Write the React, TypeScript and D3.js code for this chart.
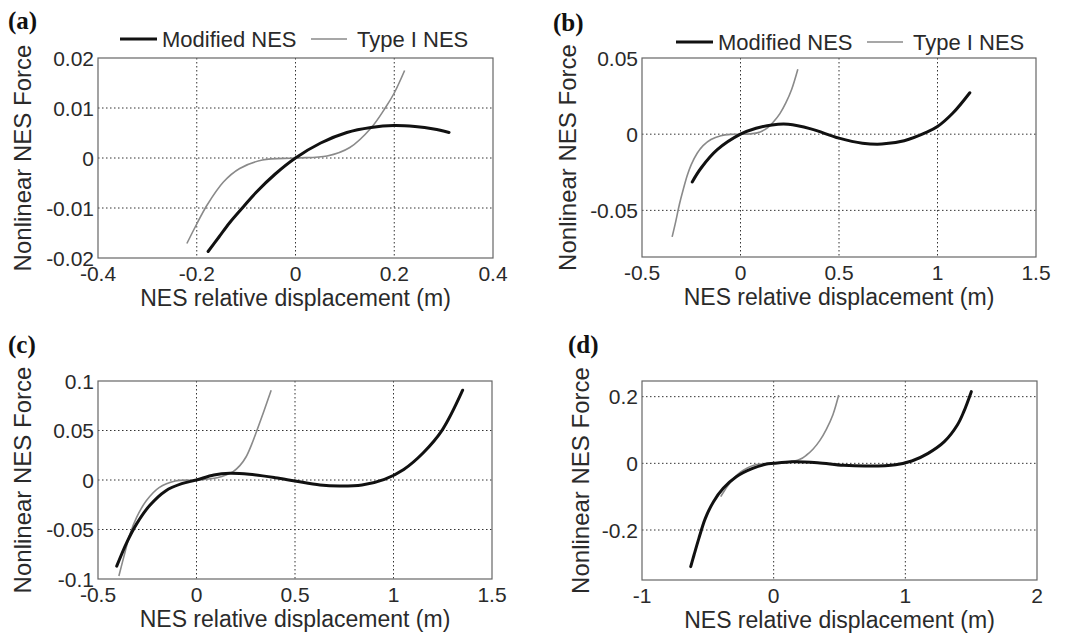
import React from "react";
import * as d3 from "d3";

// ---------- data ----------
const seriesNames = ["Modified NES", "Type I NES"];
const panelLetters = ["(a)", "(b)", "(c)", "(d)"];
const xAxisTitle = "NES relative displacement (m)";
const yAxisTitle = "Nonlinear NES Force";

const xTicksA = [-0.4, -0.2, 0, 0.2, 0.4];
const xTickLabelsA = ["-0.4", "-0.2", "0", "0.2", "0.4"];
const yTicksA = [-0.02, -0.01, 0, 0.01, 0.02];
const yTickLabelsA = ["-0.02", "-0.01", "0", "0.01", "0.02"];

const xTicksB = [-0.5, 0, 0.5, 1, 1.5];
const xTickLabelsB = ["-0.5", "0", "0.5", "1", "1.5"];
const yTicksB = [-0.05, 0, 0.05];
const yTickLabelsB = ["-0.05", "0", "0.05"];

const xTicksC = [-0.5, 0, 0.5, 1, 1.5];
const xTickLabelsC = ["-0.5", "0", "0.5", "1", "1.5"];
const yTicksC = [-0.1, -0.05, 0, 0.05, 0.1];
const yTickLabelsC = ["-0.1", "-0.05", "0", "0.05", "0.1"];

const xTicksD = [-1, 0, 1, 2];
const xTickLabelsD = ["-1", "0", "1", "2"];
const yTicksD = [-0.2, 0, 0.2];
const yTickLabelsD = ["-0.2", "0", "0.2"];

const modifiedA: [number, number][] = [
  [-0.177, -0.0187], [-0.155, -0.0158], [-0.133, -0.0129], [-0.105, -0.0097],
  [-0.08, -0.0069], [-0.041, -0.0032], [0, 0], [0.051, 0.003], [0.104, 0.0051],
  [0.153, 0.0061], [0.199, 0.0065], [0.242, 0.0063], [0.28, 0.0058], [0.311, 0.0051],
];
const typeIA: [number, number][] = [
  [-0.22, -0.0171], [-0.2, -0.0132], [-0.179, -0.0094], [-0.146, -0.0048],
  [-0.113, -0.0021], [-0.067, -0.0004], [0, 0], [0.064, 0.0004], [0.11, 0.0021],
  [0.153, 0.0060], [0.183, 0.0102], [0.2, 0.013], [0.221, 0.0175],
];

const modifiedB: [number, number][] = [
  [-0.245, -0.0313], [-0.2, -0.0222], [-0.118, -0.0102], [0, 0], [0.079, 0.0039],
  [0.16, 0.0061], [0.242, 0.0065], [0.357, 0.0035], [0.5, -0.0026], [0.619, -0.0059],
  [0.717, -0.0065], [0.831, -0.0043], [0.946, 0.0013], [1.0, 0.005], [1.077, 0.0137],
  [1.164, 0.0272],
];
const typeIB: [number, number][] = [
  [-0.347, -0.0674], [-0.33, -0.058], [-0.31, -0.046], [-0.29, -0.036],
  [-0.27, -0.027], [-0.25, -0.02], [-0.22, -0.0125], [-0.19, -0.0075],
  [-0.15, -0.0035], [-0.1, -0.001], [-0.05, -0.0001], [0, 0], [0.05, 0.0002],
  [0.1, 0.0015], [0.14, 0.0045], [0.17, 0.0085], [0.2, 0.0135], [0.23, 0.0205],
  [0.26, 0.0295], [0.291, 0.0426],
];

const modifiedC: [number, number][] = [
  [-0.405, -0.087], [-0.353, -0.0627], [-0.304, -0.0443], [-0.239, -0.026],
  [-0.157, -0.011], [-0.075, -0.0037], [0, 0], [0.088, 0.005], [0.17, 0.0067],
  [0.268, 0.0057], [0.399, 0.0023], [0.5, -0.001], [0.627, -0.005], [0.725, -0.006],
  [0.84, -0.005], [0.954, 0.0007], [1.052, 0.0107], [1.15, 0.0273], [1.248, 0.0507],
  [1.351, 0.0907],
];
const typeIC: [number, number][] = [
  [-0.394, -0.097], [-0.369, -0.0777], [-0.337, -0.0543], [-0.304, -0.0377],
  [-0.255, -0.021], [-0.19, -0.0077], [-0.108, -0.001], [0, 0], [0.105, 0.0023],
  [0.186, 0.0085], [0.22, 0.0145], [0.252, 0.0235], [0.28, 0.036], [0.301, 0.047],
  [0.342, 0.0695], [0.379, 0.0907],
];

const modifiedD: [number, number][] = [
  [-0.63, -0.31], [-0.605, -0.275], [-0.568, -0.225], [-0.519, -0.165],
  [-0.457, -0.115], [-0.383, -0.075], [-0.284, -0.04], [-0.16, -0.015],
  [-0.062, -0.003], [0, 0], [0.136, 0.005], [0.333, 0.002], [0.531, -0.006],
  [0.728, -0.008], [0.926, -0.004], [1.049, 0.007], [1.173, 0.03], [1.296, 0.065],
  [1.395, 0.115], [1.444, 0.155], [1.501, 0.215],
];
const typeID: [number, number][] = [
  [-0.402, -0.1], [-0.35, -0.068], [-0.3, -0.044], [-0.25, -0.026], [-0.2, -0.014],
  [-0.15, -0.006], [-0.1, -0.002], [0, 0], [0.1, 0.002], [0.2, 0.012], [0.25, 0.025],
  [0.3, 0.043], [0.35, 0.068], [0.4, 0.102], [0.45, 0.146], [0.494, 0.205],
];

// ---------- layout ----------
const W = 1075;
const H = 640;
const FONT = "'Liberation Sans', Arial, Helvetica, sans-serif";
const TEXT = "#2a2a2a";

const panels = [
  {
    letter: panelLetters[0], left: 98, top: 58, right: 493, bottom: 258,
    xDomain: [-0.4, 0.4], yDomain: [-0.02, 0.02],
    xTicks: xTicksA, xLabels: xTickLabelsA, yTicks: yTicksA, yLabels: yTickLabelsA,
    mod: modifiedA, typ: typeIA, letterX: 8, letterY: 29, ylabX: 23,
    legend: { x: 120, y: 39 },
  },
  {
    letter: panelLetters[1], left: 642, top: 58, right: 1036, bottom: 257,
    xDomain: [-0.5, 1.5], yDomain: [-0.0806, 0.05],
    xTicks: xTicksB, xLabels: xTickLabelsB, yTicks: yTicksB, yLabels: yTickLabelsB,
    mod: modifiedB, typ: typeIB, letterX: 553, letterY: 31, ylabX: 568,
    legend: { x: 676, y: 42 },
  },
  {
    letter: panelLetters[2], left: 98, top: 381, right: 492, bottom: 579,
    xDomain: [-0.5, 1.5], yDomain: [-0.1, 0.1],
    xTicks: xTicksC, xLabels: xTickLabelsC, yTicks: yTicksC, yLabels: yTickLabelsC,
    mod: modifiedC, typ: typeIC, letterX: 8, letterY: 353, ylabX: 23,
    legend: null,
  },
  {
    letter: panelLetters[3], left: 642, top: 381, right: 1037, bottom: 580,
    xDomain: [-1, 2], yDomain: [-0.35, 0.247],
    xTicks: xTicksD, xLabels: xTickLabelsD, yTicks: yTicksD, yLabels: yTickLabelsD,
    mod: modifiedD, typ: typeID, letterX: 568, letterY: 353, ylabX: 581,
    legend: null,
  },
];

function Panel({ p }: { p: (typeof panels)[number] }) {
  const x = d3.scaleLinear().domain(p.xDomain).range([p.left, p.right]);
  const y = d3.scaleLinear().domain(p.yDomain).range([p.bottom, p.top]);
  const line = d3
    .line<[number, number]>()
    .x((d) => x(d[0]))
    .y((d) => y(d[1]))
    .curve(d3.curveCatmullRom.alpha(0.5));
  const cx = (p.left + p.right) / 2;
  const cy = (p.top + p.bottom) / 2;
  const clipId = "clip-" + p.letter.replace(/[()]/g, "");
  return (
    <g>
      <defs>
        <clipPath id={clipId}>
          <rect x={p.left} y={p.top} width={p.right - p.left} height={p.bottom - p.top} />
        </clipPath>
      </defs>
      <rect x={p.left} y={p.top} width={p.right - p.left} height={p.bottom - p.top} fill="#fff" />
      {/* grid */}
      {p.xTicks.map((t) =>
        x(t) > p.left + 1 && x(t) < p.right - 1 ? (
          <line key={"gx" + t} x1={x(t)} x2={x(t)} y1={p.top} y2={p.bottom}
            stroke="#333" strokeWidth={1} strokeDasharray="1.5,2.5" />
        ) : null
      )}
      {p.yTicks.map((t) =>
        y(t) > p.top + 1 && y(t) < p.bottom - 1 ? (
          <line key={"gy" + t} x1={p.left} x2={p.right} y1={y(t)} y2={y(t)}
            stroke="#333" strokeWidth={1} strokeDasharray="1.5,2.5" />
        ) : null
      )}
      {/* curves */}
      <g clipPath={`url(#${clipId})`}>
        <path d={line(p.typ) || ""} fill="none" stroke="#8a8a8a" strokeWidth={1.6} />
        <path d={line(p.mod) || ""} fill="none" stroke="#111" strokeWidth={3} strokeLinecap="round" />
      </g>
      {/* box */}
      <rect x={p.left} y={p.top} width={p.right - p.left} height={p.bottom - p.top}
        fill="none" stroke="#666" strokeWidth={1.2} />
      {/* tick labels */}
      {p.xTicks.map((t, i) => (
        <text key={"xt" + t} x={x(t)} y={p.bottom + 23} textAnchor="middle"
          fontFamily={FONT} fontSize={21} fill={TEXT}>{p.xLabels[i]}</text>
      ))}
      {p.yTicks.map((t, i) => (
        <text key={"yt" + t} x={p.left - 4} y={y(t) + 7.5} textAnchor="end"
          fontFamily={FONT} fontSize={21} fill={TEXT}>{p.yLabels[i]}</text>
      ))}
      {/* axis titles */}
      <text x={cx} y={p.bottom + 48} textAnchor="middle" fontFamily={FONT}
        fontSize={23} fill={TEXT}>{xAxisTitle}</text>
      <text transform={`translate(${p.ylabX + 8},${cy}) rotate(-90)`} textAnchor="middle"
        fontFamily={FONT} fontSize={24} fill={TEXT}>{yAxisTitle}</text>
      {/* panel letter */}
      <text x={p.letterX} y={p.letterY} fontFamily="'Liberation Serif', 'Times New Roman', serif"
        fontWeight="bold" fontSize={25} fill="#111">{p.letter}</text>
      {/* legend */}
      {p.legend && (
        <g>
          <line x1={p.legend.x} x2={p.legend.x + 37} y1={p.legend.y} y2={p.legend.y}
            stroke="#111" strokeWidth={3} />
          <text x={p.legend.x + 42} y={p.legend.y + 8} fontFamily={FONT} fontSize={22}
            fill={TEXT}>{seriesNames[0]}</text>
          <line x1={p.legend.x + 191} x2={p.legend.x + 227} y1={p.legend.y} y2={p.legend.y}
            stroke="#8a8a8a" strokeWidth={1.6} />
          <text x={p.legend.x + 237} y={p.legend.y + 8} fontFamily={FONT} fontSize={22}
            fill={TEXT}>{seriesNames[1]}</text>
        </g>
      )}
    </g>
  );
}

export default function App() {
  return (
    <svg width={W} height={H} viewBox={`0 0 ${W} ${H}`}
      style={{ position: "absolute", left: 0, top: 0, background: "#fff" }}>
      <rect x={0} y={0} width={W} height={H} fill="#fff" />
      {panels.map((p) => (
        <Panel key={p.letter} p={p} />
      ))}
    </svg>
  );
}
